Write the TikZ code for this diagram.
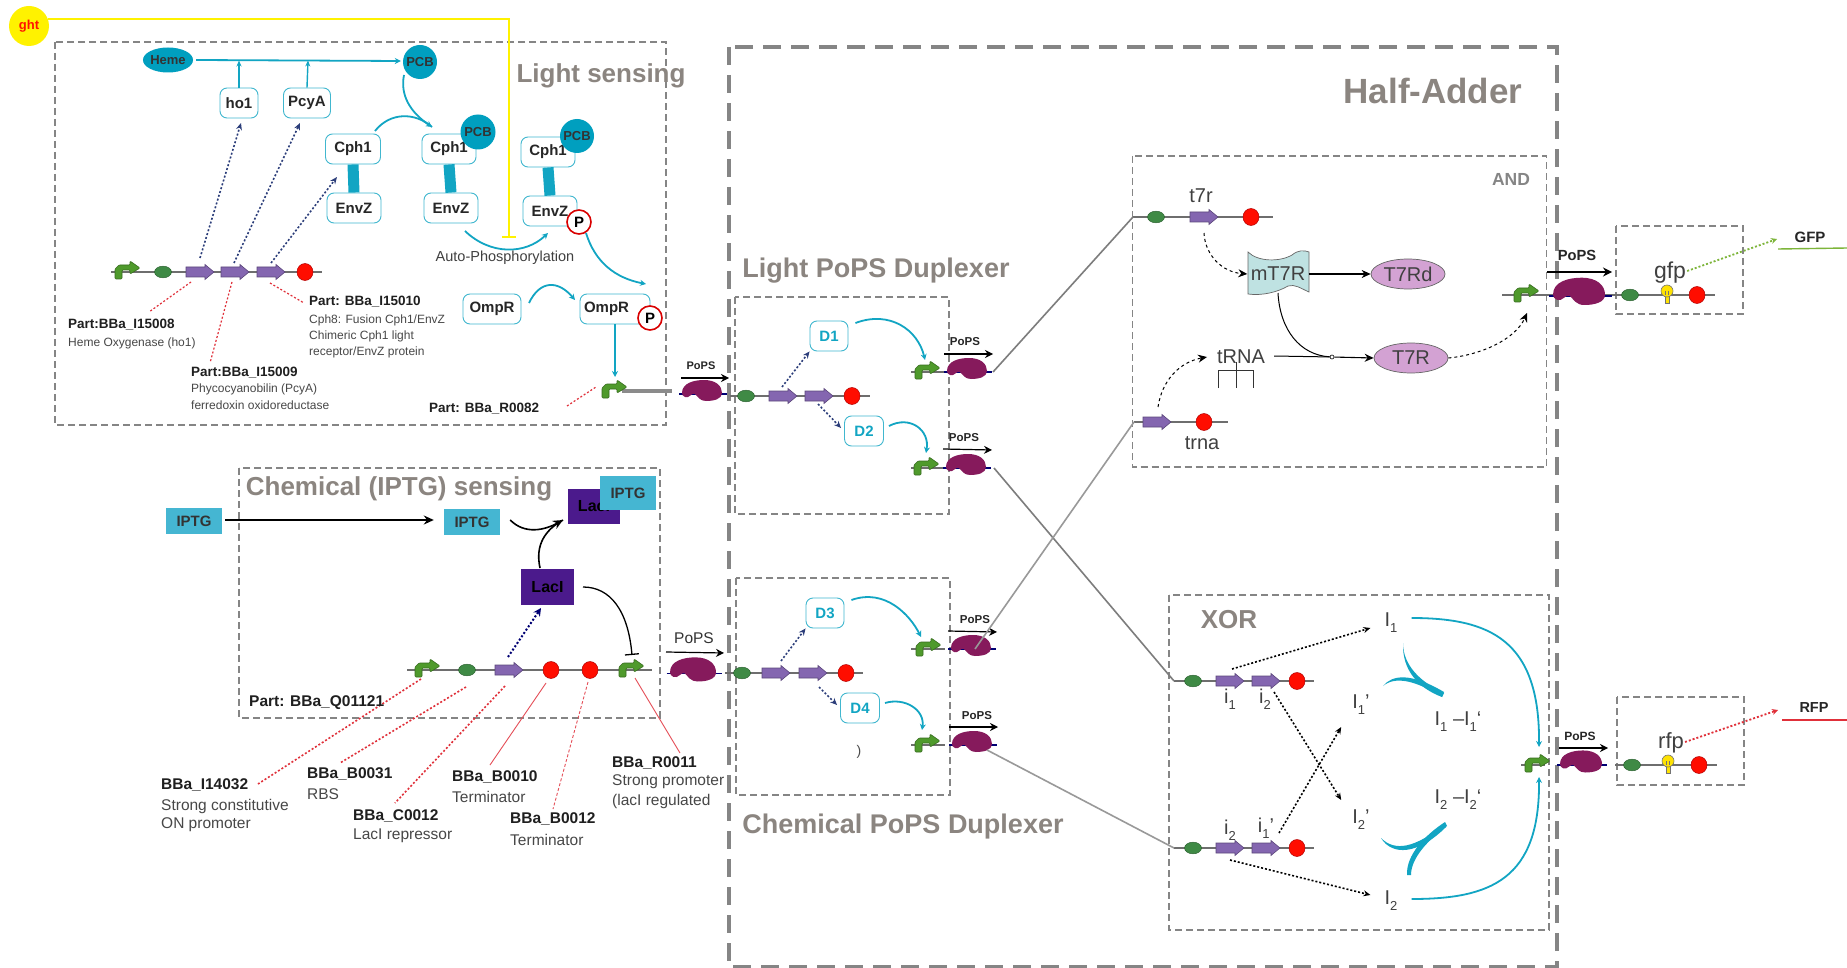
\documentclass[tikz,border=0pt]{standalone}
\usepackage{fontspec}
\setmainfont{Liberation Sans}
\usetikzlibrary{arrows.meta,calc,shapes.geometric}
\definecolor{tealc}{HTML}{12A5C3}
\definecolor{tealfill}{HTML}{009FBF}
\definecolor{boxgrey}{HTML}{858585}
\definecolor{titlegrey}{HTML}{8B8580}
\definecolor{genegrey}{HTML}{6E6E6E}
\definecolor{lacip}{HTML}{4B1A8C}
\definecolor{iptgc}{HTML}{45B6D2}
\definecolor{ribop}{HTML}{861A5C}
\definecolor{cdsp}{HTML}{8466B0}
\definecolor{plum}{HTML}{D3A2D3}
\definecolor{wavec}{HTML}{BFE2E2}
\definecolor{dotblue}{HTML}{2C3E7A}
\definecolor{redline}{HTML}{E0303A}
\definecolor{greenline}{HTML}{7DB53A}
\definecolor{promc}{HTML}{4F9A2C}
\definecolor{rbsc}{HTML}{3F8A45}
\newcommand{\fsz}[1]{\fontsize{#1}{#1}\selectfont}
\newcommand{\sbx}[1]{\raisebox{-0.3em}{\fsz{13}#1}}
\newcommand{\cpt}[3]{\coordinate (#1) at (#2,#3);}
\newcommand{\gPromoter}[3]{\coordinate (#1) at (#2,#3);
  \begin{scope}[shift={(#2,#3)}]
  \filldraw[fill=promc,draw=promc!70!black,line width=.6pt,rounded corners=1pt] (-12,7) -- (-12,-3) -- (-8,-7) -- (3,-7) -- (3,-11) -- (13,-4) -- (3,2) -- (3,-2) -- (-5,-2) -- (-5,7) -- cycle;
  \end{scope}}
\newcommand{\gRbs}[3]{\coordinate (#1) at (#2,#3);
  \filldraw[fill=rbsc,draw=rbsc!70!black,line width=.5pt] (#2,#3) ellipse [x radius=8.5,y radius=5.8];}
\newcommand{\gCds}[3]{\coordinate (#1) at (#2,#3);
  \begin{scope}[shift={(#2,#3)}]
  \filldraw[fill=cdsp,draw=cdsp!70!black,line width=.6pt] (-14,-5) -- (5,-5) -- (5,-7.5) -- (14,0) -- (5,7.5) -- (5,5) -- (-14,5) -- cycle;
  \end{scope}}
\newcommand{\gTerm}[3]{\coordinate (#1) at (#2,#3);
  \filldraw[fill=red!90!orange,draw=red!70!black,line width=.5pt] (#2,#3) ellipse [x radius=8,y radius=8.5];}
\newcommand{\gRibo}[4]{\coordinate (#1) at (#2,#3);
  \begin{scope}[shift={(#2,#3)},scale=#4]
  \draw[blue!45!black,line width=1.6pt] (-23,3) -- (25,3);
  \fill[ribop] (-20,2) .. controls (-20,-8) and (-8,-11) .. (2,-11) .. controls (14,-11) and (20,-5) .. (20,2) .. controls (20,8) and (12,10) .. (4,10) .. controls (-2,10) and (-4,6) .. (-7,3) .. controls (-10,1) and (-13,8) .. (-17,6) .. controls (-19,5) and (-20,4) .. (-20,2) -- cycle;
  \end{scope}}
\newcommand{\gBulb}[3]{\coordinate (#1) at (#2,#3);
  \begin{scope}[shift={(#2,#3)}]
  \filldraw[fill=yellow!85!orange,draw=black!55,line width=.6pt] (-2,-2) rectangle (2,8);
  \filldraw[fill=yellow!85!orange,draw=black!55,line width=.6pt] (0,-4) circle [radius=6];
  \draw[draw=black!55,line width=.6pt] (-1.5,-4) -- (-1.5,0) (1.5,-4) -- (1.5,0);
  \end{scope}}
\tikzset{
  thinbox/.style={draw=boxgrey,line width=1.2pt,dash pattern=on 7pt off 4pt},
  bigbox/.style={draw=boxgrey,line width=4.5pt,dash pattern=on 18pt off 10pt},
  prot/.style={draw=tealc!80,line width=.9pt,rounded corners=7pt,fill=white,minimum height=30pt,inner sep=0pt,font=\bfseries\fsz{15},text=black!85},
  dprot/.style={prot,text=tealc,font=\bfseries\fsz{15}},
  tealdisc/.style={fill=tealfill,inner sep=0pt,font=\bfseries\fsz{13},text=black!80},
  ptag/.style={circle,draw=red!85!black,line width=1.6pt,fill=white,minimum size=24pt,inner sep=0pt,font=\bfseries\fsz{15}},
  iptgb/.style={fill=iptgc,minimum width=56pt,minimum height=26pt,inner sep=0pt,font=\bfseries\fsz{15},text=black!80},
  lacib/.style={fill=lacip,inner sep=0pt,font=\bfseries\fsz{16},text=black},
  title/.style={inner sep=0pt,font=\bfseries\fsz{#1},text=titlegrey},
  title/.default=26,
  bl/.style={inner sep=0pt,anchor=west,font=\bfseries\fsz{#1},text=black!88},
  bl/.default=13.5,
  nl/.style={inner sep=0pt,anchor=west,font=\fsz{#1},text=black!72},
  nl/.default=12,
  txt/.style={inner sep=0pt,font=\fsz{#1},text=black!75},
  txt/.default=20,
  popsb/.style={inner sep=0pt,font=\bfseries\fsz{#1},text=black!85},
  popsb/.default=11.5,
  tealarrow/.style={draw=tealc,line width=1.8pt,-{Stealth[length=6pt,width=6pt]}},
  dotbl/.style={draw=dotblue,line width=1.6pt,dash pattern=on 2pt off 2pt,-{Stealth[length=7pt,width=6pt]}},
  dotbk/.style={draw=black,line width=1.6pt,dash pattern=on 2pt off 2pt,-{Stealth[length=7pt,width=6pt]}},
  reddot/.style={draw=redline,line width=1.2pt,dash pattern=on 2pt off 2pt},
  redthin/.style={draw=redline!85,line width=.9pt},
  popsarrow/.style={draw=black,line width=1.2pt,-{Stealth[length=8pt,width=8pt]}},
  geneline/.style={draw=genegrey,line width=2pt},
  link/.style={draw=genegrey!90,line width=1.6pt},
  dasharc/.style={draw=black,line width=1pt,dashed,-{Stealth[length=9pt,width=8pt]}},
  solidarr/.style={draw=black,line width=1.1pt,-{Stealth[length=9pt,width=8pt]}},
  ell/.style={draw=black!60,line width=.7pt,fill=plum,ellipse,inner sep=0pt,font=\fsz{20},text=black!75},
}
\begin{document}
\begin{tikzpicture}[x=1pt,y=-1pt]
\useasboundingbox (0,0) rectangle (1847,968);
\fill[white] (0,0) rectangle (1847,968);

% ---------- frames
\draw[thinbox] (55,42) rectangle (666,425);
\draw[thinbox] (239,468) rectangle (660,718);
\draw[bigbox] (729,47) rectangle (1557,967);
\draw[thinbox] (735,297) rectangle (949,514);
\draw[thinbox] (736,578) rectangle (950,795);
\draw[thinbox] (1132.5,156) rectangle (1546.5,467);
\draw[thinbox] (1169,595) rectangle (1549,930);
\draw[thinbox] (1616,226) rectangle (1743,314);
\draw[thinbox] (1617,697) rectangle (1744,785);

% ---------- titles
\node[title=26] (tLight) at (601,76) {Light sensing};
\node[title=26] (tChem) at (399,489) {Chemical (IPTG) sensing};
\node[title=35] (tHalf) at (1433,91) {Half-Adder};
\node[title=27] (tLP) at (876,271) {Light PoPS Duplexer};
\node[title=27] (tCP) at (903,827) {Chemical PoPS Duplexer};
\node[inner sep=0pt,font=\bfseries\fsz{17.5},text=boxgrey] (tAnd) at (1511,179) {AND};
\node[title=26] (tXor) at (1229,620) {XOR};

% ---------- light sensing
\node[circle,fill=yellow,minimum size=40pt,inner sep=0pt,font=\bfseries\fsz{13},text=red!85!orange] (ght) at (29,26) {ght};
\node[tealdisc,ellipse,minimum width=48pt,minimum height=25pt] (heme) at (168,60) {Heme};
\node[tealdisc,circle,minimum size=34pt] (pcb) at (420,62) {PCB};
\node[prot,minimum width=38pt] (ho) at (239,103) {ho1};
\node[prot,minimum width=47pt] (pcya) at (307,103) {PcyA};
\draw[tealarrow] (heme.east) ++(3,0) -- ($(pcb.west)+(-2,-1)$);
\coordinate (j1) at (239,60.5);\coordinate (j2) at (308,60.5);
\draw[draw=tealc,line width=1.4pt,-{Stealth[length=6pt,width=5pt]}] (ho.north) -- (j1);
\draw[draw=tealc,line width=1.4pt,-{Stealth[length=6pt,width=5pt]}] (pcya.north) -- (j2);

\node[prot,minimum width=55pt] (c1) at (353,149) {Cph1};
\node[prot,minimum width=54pt] (e1) at (354,208) {EnvZ};
\draw[draw=tealc,line width=11pt] (c1.south) -- (e1.north);
\node[prot,minimum width=54pt] (c2) at (449,149) {Cph1};
\node[prot,minimum width=54pt] (e2) at (451,208) {EnvZ};
\draw[draw=tealc,line width=11pt] (c2.south) -- (e2.north);
\node[prot,minimum width=54pt] (c3) at (548,152) {Cph1};
\node[prot,minimum width=54pt] (e3) at (550,211) {EnvZ};
\draw[draw=tealc,line width=11pt] (c3.south) -- (e3.north);
\node[tealdisc,circle,minimum size=35pt] (p2) at (478,132) {PCB};
\node[tealdisc,circle,minimum size=34pt] (p3) at (577,136) {PCB};
\node[ptag] (pa) at (579,222) {P};
\cpt{a1}{404}{75}\cpt{a2}{432}{127}\cpt{a3}{375}{131}
\draw[tealarrow] (a1) .. controls (400,95) and (410,112) .. (a2);
\draw[draw=tealc,line width=1.8pt] (a3) .. controls (390,112) and (415,112) .. (a2);
\cpt{a4}{465}{231}\cpt{a5}{548}{233}
\draw[tealarrow] (a4) .. controls (490,255) and (525,255) .. (a5);
\node[inner sep=0pt,font=\fsz{14.5},text=black!75] (auto) at (505,258) {Auto-Phosphorylation};
\cpt{a6}{586}{233}\cpt{a7}{646}{284}
\draw[tealarrow] (a6) .. controls (595,262) and (615,278) .. (a7);
\node[prot,minimum width=58pt] (o1) at (492,309) {OmpR};
\node[prot,minimum width=70pt,text width=62pt] (o2) at (615,309) {OmpR};
\node[ptag] (pb) at (650,318) {P};
\cpt{a8}{529}{303}\cpt{a9}{575}{300}
\draw[tealarrow] (a8) .. controls (540,280) and (558,280) .. (a9);

\cpt{l1a}{111}{272}\cpt{l1b}{322}{272}
\draw[geneline] (l1a) -- (l1b);
\gPromoter{l1p}{127}{272}\gRbs{l1r}{163}{272}\gCds{l1c1}{200}{272}\gCds{l1c2}{235}{272}\gCds{l1c3}{271}{272}\gTerm{l1t}{305}{272}
\cpt{d1}{200}{258}\cpt{d1e}{241}{123}\cpt{d2}{234}{263}\cpt{d2e}{300}{123}\cpt{d3}{271}{263}\cpt{d3e}{337}{177}
\draw[dotbl] (d1) -- (d1e);\draw[dotbl] (d2) -- (d2e);\draw[dotbl] (d3) -- (d3e);
\cpt{r1}{191}{282}\cpt{r1e}{149}{312}\cpt{r2}{232}{282}\cpt{r2e}{210}{363}\cpt{r3}{270}{283}\cpt{r3e}{304}{303}
\draw[reddot] (r1) -- (r1e);\draw[reddot] (r2) -- (r2e);\draw[reddot] (r3) -- (r3e);
\node[bl] (t08) at (68,325) {Part:BBa\_I15008};
\node[nl] (t08a) at (68,343) {Heme Oxygenase (ho1)};
\node[bl] (t09) at (191,373) {Part:BBa\_I15009};
\node[nl] (t09a) at (191,389) {Phycocyanobilin (PcyA)};
\node[nl] (t09b) at (191,405) {ferredoxin oxidoreductase};
\node[bl] (t10) at (309,302) {Part: BBa\_I15010};
\node[nl] (t10a) at (309,320) {Cph8: Fusion Cph1/EnvZ};
\node[nl] (t10b) at (309,336) {Chimeric Cph1 light};
\node[nl] (t10c) at (309,352) {receptor/EnvZ protein};
\node[bl] (t82) at (429,409) {Part: BBa\_R0082};

\cpt{pl1}{622}{391}\cpt{pl2}{672}{391}
\draw[draw=genegrey!80,line width=4pt] (pl1) -- (pl2);
\gPromoter{lp}{614}{391}
\draw[draw=tealc,line width=1.6pt,-{Stealth[length=6pt,width=6pt]}] (o2.south) ++(0,0) -- ($(lp)+(1,-14)$);
\cpt{rr}{567}{406}\cpt{rre}{596}{387}
\draw[reddot] (rr) -- (rre);
\gRibo{lr}{702}{391}{1}
\node[popsb=11] (lps) at (701,366) {PoPS};
\cpt{pa1}{681}{378}\cpt{pa2}{729}{378}
\draw[popsarrow] (pa1) -- (pa2);

% ---------- yellow input
\cpt{ys}{48}{19}\cpt{yc}{509}{19}\cpt{yt}{509}{238}
\draw[draw=yellow,line width=1.8pt,-{Bar[width=14pt,line width=1.8pt]}] (ys) -- (yc) -- (yt);

% ---------- chemical sensing
\node[iptgb] (ip1) at (194,521) {IPTG};
\node[iptgb] (ip2) at (472,522) {IPTG};
\node[lacib,minimum width=52pt,minimum height=35pt] (lac1) at (594,506.5) {LacI};
\node[iptgb,minimum height=34pt] (ip3) at (628,493) {IPTG};
\node[lacib,minimum width=53pt,minimum height=36pt] (lac2) at (547.5,587) {LacI};
\draw[draw=black,line width=1.6pt,-{Stealth[length=10pt,width=9pt]}] (ip1.east) ++(3,-1) -- ($(ip2.west)+(-10,-2)$);
\cpt{ch}{563}{520}
\draw[draw=black,line width=1.6pt,-{Stealth[length=10pt,width=9pt]}] (ip2.east) ++(10,-2) .. controls (525,535) and (545,530) .. (ch);
\draw[draw=black,line width=1.6pt] (540,568) .. controls (535,545) and (545,530) .. (ch);
\cpt{c1a}{407}{670}\cpt{c1b}{652}{670}
\draw[geneline] (c1a) -- (c1b);
\gPromoter{cp1}{427}{670}\gRbs{cr}{467}{670}\gCds{cc}{509}{670}\gTerm{ct1}{551}{670}\gTerm{ct2}{590}{670}\gPromoter{cp2}{631}{670}
\cpt{cd}{508}{657}\cpt{cde}{541}{608}
\draw[draw=blue!45!black,line width=2pt,dash pattern=on 2pt off 2pt,-{Stealth[length=8pt,width=8pt]}] (cd) -- (cde);
\cpt{rp}{583}{587}\cpt{rpe}{632}{655}
\draw[draw=black,line width=1.3pt,-{Bar[width=14pt,line width=1.3pt]}] (rp) .. controls (610,587) and (628,610) .. (rpe);
\cpt{q1}{421}{679}\cpt{q1e}{258}{784}\cpt{q2}{466}{687}\cpt{q2e}{340}{763}\cpt{q3}{505}{686}\cpt{q3e}{395}{803}
\cpt{q4}{546}{683}\cpt{q4e}{490}{765}\cpt{q5}{588}{682}\cpt{q5e}{553}{809}\cpt{q6}{635}{678}\cpt{q6e}{680}{753}
\draw[reddot,line width=1.6pt] (q1) -- (q1e);\draw[reddot,line width=1.6pt] (q2) -- (q2e);\draw[reddot,line width=1.6pt] (q3) -- (q3e);
\draw[redthin] (q4) -- (q4e);\draw[redthin,densely dashed] (q5) -- (q5e);\draw[redthin] (q6) -- (q6e);
\node[bl=15.5] (tq) at (249,703) {Part: BBa\_Q01121};
\node[bl=15.5] (i14) at (161,785) {BBa\_I14032};
\node[nl=15.5] (i14a) at (161,806) {Strong constitutive};
\node[nl=15.5] (i14b) at (161,825) {ON promoter};
\node[bl=15.5] (b31) at (307,774) {BBa\_B0031};
\node[nl=15.5] (b31a) at (307,794) {RBS};
\node[bl=15.5] (c12) at (353,816) {BBa\_C0012};
\node[nl=15.5] (c12a) at (353,836) {LacI repressor};
\node[bl=15.5] (b10) at (452,777) {BBa\_B0010};
\node[nl=15.5] (b10a) at (452,797) {Terminator};
\node[bl=15.5] (b12) at (510,819) {BBa\_B0012};
\node[nl=15.5] (b12a) at (510,840) {Terminator};
\node[bl=15.5] (r11) at (612,763) {BBa\_R0011};
\node[nl=15.5] (r11a) at (612,782) {Strong promoter};
\node[nl=15.5] (r11b) at (612,801) {(lacI regulated};
\gRibo{mr}{693}{670}{1.15}
\node[inner sep=0pt,font=\fsz{15.5},text=black!80] (mps) at (694,638) {PoPS};
\cpt{mp1}{666}{652}\cpt{mp2}{724}{653}
\draw[popsarrow] (mp1) -- (mp2);

% ---------- light duplexer
\cpt{g1a}{730}{396}\cpt{g1b}{870}{396}
\draw[geneline] (g1a) -- (g1b);
\gRbs{g1r}{746}{396}\gCds{g1c1}{783}{396}\gCds{g1c2}{819}{396}\gTerm{g1t}{852}{396}
\node[dprot,minimum width=38pt] (D1) at (829,336) {D1};
\node[dprot,minimum width=39pt] (D2) at (864,431) {D2};
\cpt{e1s}{782}{387}\cpt{e2s}{818}{404}
\draw[dotbl] (e1s) -- (D1.south west);
\draw[dotbl] (e2s) -- ($(D2.west)+(-3,-3)$);
\cpt{p1a}{911}{372}\cpt{p1b}{945}{372}\cpt{p2a}{911}{468}\cpt{p2b}{945}{468}
\draw[geneline] (p1a) -- (p1b);\draw[geneline] (p2a) -- (p2b);
\gPromoter{p1}{927}{372}\gPromoter{p2}{926}{468}
\gRibo{rb1}{967}{369}{1}\gRibo{rb2}{966}{465}{1}
\draw[tealarrow] ($(D1.east)+(7,-13)$) .. controls (890,310) and (918,330) .. ($(p1)+(-2,-12)$);
\draw[tealarrow] ($(D2.east)+(5,-5)$) .. controls (910,415) and (930,430) .. ($(p2)+(0,-15)$);
\node[popsb] (ps1) at (965,342) {PoPS};\node[popsb] (ps2) at (964,438) {PoPS};
\cpt{b1a}{944}{354}\cpt{b1b}{993}{354}\cpt{b2a}{943}{449}\cpt{b2b}{992}{450}
\draw[popsarrow] (b1a) -- (b1b);\draw[popsarrow] (b2a) -- (b2b);

% ---------- chemical duplexer
\cpt{g2a}{725}{673}\cpt{g2b}{863}{673}
\draw[geneline] (g2a) -- (g2b);
\gRbs{g2r}{742}{673}\gCds{g2c1}{776}{673}\gCds{g2c2}{813}{673}\gTerm{g2t}{846}{673}
\node[dprot,minimum width=38pt] (D3) at (825,613) {D3};
\node[dprot,minimum width=39pt] (D4) at (860,708) {D4};
\cpt{e3s}{781}{661}\cpt{e4s}{819}{687}
\draw[dotbl] (e3s) -- (D3.south west);
\draw[dotbl] (e4s) -- ($(D4.west)+(-3,-3)$);
\cpt{p3a}{911}{649}\cpt{p3b}{945}{649}\cpt{p4a}{911}{745}\cpt{p4b}{945}{745}
\draw[geneline] (p3a) -- (p3b);\draw[geneline] (p4a) -- (p4b);
\gPromoter{p3}{928}{649}\gPromoter{p4}{927}{745}
\gRibo{rb3}{971}{646}{1}\gRibo{rb4}{972}{742}{1}
\draw[tealarrow] ($(D3.east)+(7,-13)$) .. controls (885,588) and (910,615) .. ($(p3)+(-7,-12)$);
\draw[tealarrow] ($(D4.east)+(5,-5)$) .. controls (905,697) and (925,710) .. ($(p4)+(-5,-15)$);
\node[popsb] (ps3) at (975,620) {PoPS};\node[popsb] (ps4) at (977,716) {PoPS};
\cpt{b3a}{948}{631}\cpt{b3b}{997}{632}\cpt{b4a}{949}{727}\cpt{b4b}{998}{727}
\draw[popsarrow] (b3a) -- (b3b);\draw[popsarrow] (b4a) -- (b4b);
\node[inner sep=0pt,font=\fsz{14},text=black!70] (stray) at (859,752) {)};

% ---------- AND gate
\cpt{t7a}{1133}{217}\cpt{t7b}{1273}{217}
\draw[geneline] (t7a) -- (t7b);
\gRbs{t7rb}{1156}{217}\gCds{t7c}{1204}{217}\gTerm{t7t}{1251}{217}
\node[txt] (t7) at (1201,196) {t7r};
\fill[wavec] (1248,252) .. controls (1258,262) and (1280,262) .. (1292,255) .. controls (1298,250) and (1304,250) .. (1309,252) -- (1309,292) .. controls (1300,288) and (1295,284) .. (1288,286) .. controls (1278,292) and (1262,296) .. (1248,294) -- cycle;
\draw[draw=black!60,line width=.7pt] (1248,252) .. controls (1258,262) and (1280,262) .. (1292,255) .. controls (1298,250) and (1304,250) .. (1309,252) -- (1309,292) .. controls (1300,288) and (1295,284) .. (1288,286) .. controls (1278,292) and (1262,296) .. (1248,294) -- cycle;
\node[txt,minimum width=61pt] (mt) at (1278,274) {mT7R};
\node[ell,minimum width=74pt,minimum height=30pt] (t7d) at (1408,274) {T7Rd};
\node[ell,minimum width=74pt,minimum height=30pt] (t7x) at (1411,358) {T7R};
\draw[solidarr] (mt.east) -- (t7d.west);
\cpt{t7s}{1204}{233}
\draw[dasharc] (t7s) .. controls (1205,255) and (1222,272) .. (mt.west);
\node[txt] (trnap) at (1241,357) {tRNA};
\node[circle,draw=black,fill=white,line width=.6pt,minimum size=4pt,inner sep=0pt] (jn) at (1332,357) {};
\draw[draw=black,line width=1pt] ($(trnap.east)+(9,-1)$) -- (jn);
\draw[solidarr] (jn) -- (t7x.west);
\draw[draw=black,line width=1pt] (1278,293) .. controls (1280,330) and (1300,355) .. (jn);
\draw[draw=black!80,line width=.8pt] (1218,388) -- (1218,370) -- (1253.5,370) -- (1253.5,388);
\draw[draw=black!80,line width=.8pt] (1236,362) -- (1236,388);
\cpt{tra}{1134}{422}\cpt{trb}{1228}{422}
\draw[geneline] (tra) -- (trb);
\gCds{trc}{1157}{422}\gTerm{trt}{1204}{422}
\node[txt] (trn) at (1202,443) {trna};
\cpt{trs}{1158}{407}\cpt{tre}{1207}{357}
\draw[dasharc] (trs) .. controls (1162,380) and (1180,362) .. (tre);
\cpt{oa}{1502}{295}\cpt{ob}{1715}{295}
\draw[geneline] (oa) -- (ob);
\gPromoter{op}{1526}{295}\gRibo{orb}{1579}{292}{1.3}\gRbs{orr}{1630}{295}\gBulb{obl}{1667}{295}\gTerm{ott}{1697}{295}
\cpt{ote}{1527}{313}
\draw[dasharc] (t7x.east) .. controls (1480,355) and (1515,340) .. (ote);
\node[popsb=14.7] (pso) at (1577,255) {PoPS};
\cpt{oba}{1547}{272}\cpt{obb}{1612}{272}
\draw[draw=black,line width=2pt,-{Stealth[length=9pt,width=9pt]}] (oba) -- (obb);
\node[txt=23] (gfp) at (1670,273) {gfp};
\cpt{gfe}{1777}{239}
\draw[draw=greenline,line width=1.8pt,dash pattern=on 2pt off 2pt,-{Stealth[length=6pt,width=6pt]}] (gfp.east) ++(1,-2) -- (gfe);
\node[popsb=15] (GFP) at (1810,237) {GFP};
\cpt{gl1}{1778}{249}\cpt{gl2}{1847}{248}
\draw[draw=greenline,line width=1.4pt] (gl1) -- (gl2);

% ---------- XOR gate
\cpt{x1a}{1174}{681}\cpt{x1b}{1314}{681}\cpt{x2a}{1174}{848}\cpt{x2b}{1314}{848}
\draw[geneline] (x1a) -- (x1b);\draw[geneline] (x2a) -- (x2b);
\gRbs{x1r}{1193}{681}\gCds{x1c1}{1230}{681}\gCds{x1c2}{1266}{681}\gTerm{x1t}{1297}{681}
\gRbs{x2r}{1193}{848}\gCds{x2c1}{1230}{848}\gCds{x2c2}{1266}{848}\gTerm{x2t}{1297}{848}
\node[txt] (si1) at (1230,699) {i\sbx{1}};
\node[txt] (si2) at (1265,699) {i\sbx{2}};
\node[txt] (si3) at (1230,830) {i\sbx{2}};
\node[txt] (si4) at (1266,828) {i\sbx{1}’};
\node[txt] (I1) at (1391,623) {I\sbx{1}};
\node[txt] (I1p) at (1361,705) {I\sbx{1}’};
\node[txt] (I11) at (1458,722) {I\sbx{1} –I\sbx{1}‘};
\node[txt] (I2p) at (1361,820) {I\sbx{2}’};
\node[txt] (I22) at (1458,800) {I\sbx{2} –I\sbx{2}‘};
\node[txt] (I2) at (1391,901) {I\sbx{2}};
\cpt{xd1}{1232}{669}\cpt{xd2}{1274}{692}\cpt{xd3}{1279}{833}\cpt{xd4}{1230}{860}
\draw[dotbk] (xd1) -- ($(I1.west)+(-14,5)$);
\draw[dotbk] (xd2) -- ($(I2p.west)+(-11,-20)$);
\draw[dotbk] (xd3) -- ($(I1p.west)+(-11,22)$);
\draw[dotbk] (xd4) -- ($(I2.west)+(-14,-6)$);
\fill[tealc] (1403,643) .. controls (1403,665) and (1420,682) .. (1444,693) -- (1442,697) .. controls (1418,688) and (1402,670) .. (1403,643) -- cycle;
\fill[tealc] (1383,686) .. controls (1392,675) and (1410,672) .. (1444,692) -- (1442,697) .. controls (1415,680) and (1395,676) .. (1383,686) -- cycle;
\fill[tealc] (1407,875) .. controls (1406,855) and (1425,835) .. (1445,822) -- (1447,826) .. controls (1428,840) and (1411,858) .. (1411,875) -- cycle;
\fill[tealc] (1381,838) .. controls (1395,852) and (1415,848) .. (1445,824) -- (1446,827) .. controls (1418,855) and (1392,856) .. (1381,838) -- cycle;
\cpt{ya}{1521}{765}\cpt{ye}{1545}{765}\cpt{yc2}{1615}{765}\cpt{yd}{1717}{765}
\draw[geneline] (ya) -- (ye);
\draw[geneline] (yc2) -- (yd);
\gPromoter{yp}{1537}{765}\gRibo{yrb}{1581}{762}{1.05}\gRbs{yr}{1632}{765}\gBulb{yl}{1668}{765}\gTerm{yt2}{1699}{765}
\draw[tealarrow] ($(I1.east)+(14,-5)$) .. controls (1490,618) and (1540,640) .. ($(yp)+(2,-18)$);
\draw[tealarrow] ($(I2.east)+(14,-2)$) .. controls (1490,899) and (1540,880) .. ($(yp)+(2,12)$);
\node[popsb=12] (psx) at (1580,736) {PoPS};
\cpt{yba}{1559}{748}\cpt{ybb}{1608}{748}
\draw[popsarrow] (yba) -- (ybb);
\node[txt=22] (rfp) at (1671,743) {rfp};
\cpt{rfe}{1778}{710}
\draw[draw=redline,line width=1.8pt,dash pattern=on 2pt off 2pt,-{Stealth[length=6pt,width=6pt]}] (rfp.east) ++(1,-1) -- (rfe);
\node[popsb=14.5] (RFP) at (1814,708) {RFP};
\cpt{rl1}{1782}{720}\cpt{rl2}{1847}{720}
\draw[draw=redline,line width=1.6pt] (rl1) -- (rl2);

% ---------- long links
\draw[link] ($(rb1)+(26,3)$) -- (t7a);
\draw[link] ($(rb2)+(28,3)$) -- (x1a);
\draw[draw=genegrey!70,line width=1.6pt] ($(rb3)+(4,3)$) -- (tra);
\draw[draw=genegrey!70,line width=1.6pt] ($(rb4)+(15,8)$) -- (x2a);
\end{tikzpicture}
\end{document}
